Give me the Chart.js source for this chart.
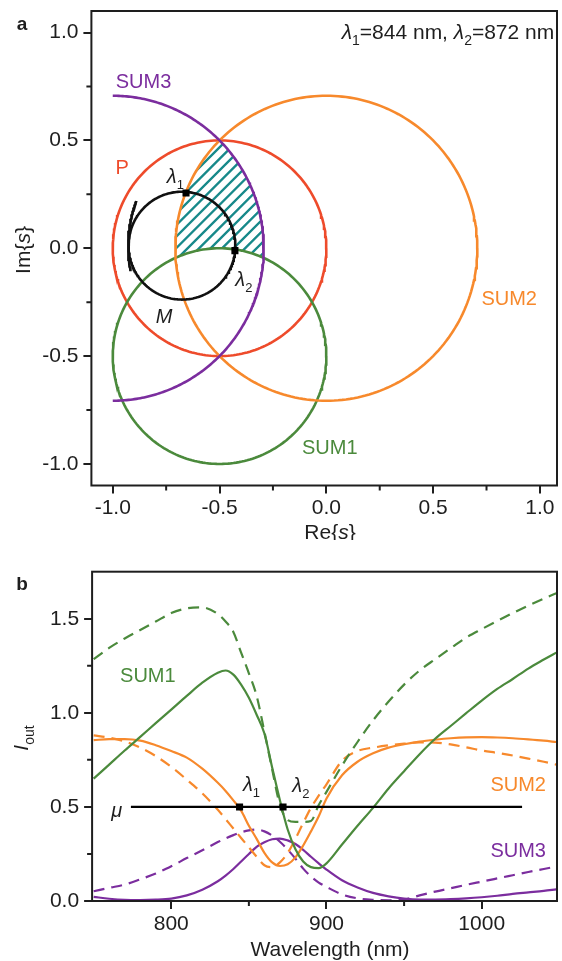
<!DOCTYPE html>
<html lang="en">
<head>
<meta charset="UTF-8">
<title>Complex plane and SUM outputs</title>
<script src="https://cdn.jsdelivr.net/npm/chart.js"></script>
<style>
    body { margin: 0; background: #fff; width: 562px; height: 961px; overflow: hidden; }
    canvas { position: absolute; left: 0; }
    #planeChart { top: 0; }
    #spectrumChart { top: 540px; }
</style>
</head>
<body>
<canvas id="planeChart" width="562" height="540"></canvas>
<canvas id="spectrumChart" width="562" height="421"></canvas>
<script>
// ---------- panel a: circles in the complex plane ----------
const circleNames  = ['P', 'SUM1', 'SUM2', 'SUM3', 'M', 'M tail'];
const circleRe     = [-0.5, -0.5, 0.0, -1.0, -0.676, -0.353];
const circleIm     = [0.0, -0.5, 0.0, 0.0, 0.012, 0.013];
const circleRadius = [0.5, 0.5, 0.707, 0.707, 0.25, 0.575];
const arcFromDeg   = [0, 0, 0, 90, 0, 159];
const arcToDeg     = [360, 360, 360, -90, 360, 192];
const lambdaRe = [-0.657, -0.428];
const lambdaIm = [0.256, -0.011];
const planeTicks = [-1, -0.5, 0, 0.5, 1];
const planeMinorTicks = [-0.75, -0.25, 0.25, 0.75];

// ---------- panel b: output intensity vs wavelength ----------
const wavelength = [750, 760, 770, 780, 790, 800, 810, 820, 830, 835, 840, 845, 850, 855, 860, 865, 870, 875, 880, 885,
    890, 895, 900, 910, 920, 930, 940, 950, 960, 970, 980, 990, 1000, 1010, 1020, 1030, 1040, 1048];
const sum1Solid  = [0.65, 0.725, 0.80, 0.872, 0.945, 1.017, 1.09, 1.16, 1.213, 1.225, 1.203, 1.15, 1.08, 0.99, 0.89, 0.71, 0.535, 0.38, 0.275, 0.21,
    0.18, 0.175, 0.20, 0.30, 0.40, 0.495, 0.598, 0.69, 0.78, 0.862, 0.93, 0.998, 1.065, 1.127, 1.18, 1.235, 1.283, 1.32];
const sum1Dashed = [1.285, 1.345, 1.395, 1.44, 1.485, 1.53, 1.555, 1.56, 1.525, 1.485, 1.43, 1.32, 1.21, 1.09, 0.90, 0.70, 0.51, 0.43, 0.42, 0.42,
    0.425, 0.51, 0.58, 0.72, 0.845, 0.96, 1.06, 1.15, 1.225, 1.285, 1.343, 1.40, 1.445, 1.488, 1.53, 1.57, 1.607, 1.635];
const sum2Solid  = [0.855, 0.86, 0.86, 0.852, 0.828, 0.797, 0.762, 0.703, 0.628, 0.585, 0.535, 0.48, 0.40, 0.33, 0.256, 0.205, 0.186, 0.195, 0.232, 0.295,
    0.37, 0.45, 0.545, 0.668, 0.74, 0.785, 0.815, 0.833, 0.847, 0.857, 0.865, 0.87, 0.871, 0.869, 0.865, 0.859, 0.852, 0.845];
const sum2Dashed = [0.88, 0.868, 0.848, 0.815, 0.77, 0.713, 0.645, 0.572, 0.485, 0.435, 0.385, 0.335, 0.285, 0.235, 0.19, 0.18, 0.205, 0.255, 0.33, 0.415,
    0.495, 0.56, 0.62, 0.745, 0.797, 0.815, 0.827, 0.836, 0.843, 0.842, 0.832, 0.817, 0.80, 0.787, 0.773, 0.757, 0.74, 0.725];
const sum3Solid  = [0.022, 0.012, 0.006, 0.005, 0.007, 0.013, 0.03, 0.06, 0.105, 0.135, 0.17, 0.21, 0.25, 0.288, 0.312, 0.328, 0.332, 0.322, 0.303, 0.272,
    0.235, 0.20, 0.167, 0.11, 0.072, 0.043, 0.025, 0.013, 0.008, 0.008, 0.01, 0.014, 0.02, 0.028, 0.038, 0.046, 0.054, 0.062];
const sum3Dashed = [0.052, 0.07, 0.087, 0.115, 0.146, 0.185, 0.228, 0.27, 0.313, 0.333, 0.35, 0.365, 0.375, 0.38, 0.37, 0.348, 0.315, 0.273, 0.225, 0.172,
    0.13, 0.098, 0.075, 0.035, 0.014, 0.006, 0.004, 0.008, 0.03, 0.05, 0.068, 0.086, 0.103, 0.12, 0.137, 0.154, 0.17, 0.183];
const muLevel = 0.5;
const muRange = [774, 1026];
const lambdaNm = [844, 872];
const wlTicks = [800, 900, 1000];
const wlMinorTicks = [850, 950];
const intensityTicks = [0, 0.5, 1.0, 1.5];
const intensityMinorTicks = [0.25, 0.75, 1.25];

const RED = '#ee4b2b', GREEN = '#4b8a3c', ORANGE = '#f7892c', PURPLE = '#7b2d9e', TEAL = '#17898a', INK = '#1e1e1e';
const FONT = '"Liberation Sans", Arial, sans-serif';
const circleColors = [RED, GREEN, ORANGE, PURPLE, '#111', '#111'];

function arcPoints(i) {
    const pts = [];
    const n = 240;
    for (let k = 0; k <= n; k++) {
        const a = (arcFromDeg[i] + (arcToDeg[i] - arcFromDeg[i]) * k / n) * Math.PI / 180;
        pts.push({ x: circleRe[i] + circleRadius[i] * Math.cos(a), y: circleIm[i] + circleRadius[i] * Math.sin(a) });
    }
    return pts;
}
const zip = (xs, ys) => xs.map((x, i) => ({ x, y: ys[i] }));

// text made of pieces: [text, style] with style '' | 'i' | 'sub'
function drawRich(ctx, parts, x, y, color, size, align, bold) {
    const sub = Math.round(size * 0.66);
    const fontOf = p => (bold ? 'bold ' : '') + (p[1] === 'i' ? 'italic ' : '') + (p[1] === 'sub' ? sub : size) + 'px ' + FONT;
    const widths = parts.map(p => { ctx.font = fontOf(p); return ctx.measureText(p[0]).width; });
    const total = widths.reduce((a, b) => a + b, 0);
    let cx = align === 'right' ? x - total : align === 'left' ? x : x - total / 2;
    ctx.fillStyle = color;
    ctx.textAlign = 'left';
    ctx.textBaseline = 'alphabetic';
    parts.forEach((p, i) => {
        ctx.font = fontOf(p);
        ctx.fillText(p[0], cx, y + size * 0.36 + (p[1] === 'sub' ? size * 0.3 : 0));
        cx += widths[i];
    });
}

const framePlugin = {
    id: 'frame',
    afterDraw(chart) {
        const { ctx, chartArea: a } = chart;
        const minor = chart.options.plugins.frame;
        ctx.save();
        ctx.strokeStyle = INK;
        ctx.lineWidth = 2;
        ctx.beginPath();
        minor.x.forEach(v => {
            const px = chart.scales.x.getPixelForValue(v);
            ctx.moveTo(px, a.bottom); ctx.lineTo(px, a.bottom + 5);
        });
        minor.y.forEach(v => {
            const py = chart.scales.y.getPixelForValue(v);
            ctx.moveTo(a.left, py); ctx.lineTo(a.left - 5, py);
        });
        ctx.stroke();
        ctx.strokeRect(a.left, a.top, a.right - a.left, a.bottom - a.top);
        ctx.restore();
    }
};

const labelPlugin = {
    id: 'labels',
    afterDatasetsDraw(chart) {
        const { ctx, scales: { x, y } } = chart;
        const cfg = chart.options.plugins.labels;
        ctx.save();
        cfg.items.forEach(l => {
            drawRich(ctx, l.parts, x.getPixelForValue(l.x), y.getPixelForValue(l.y), l.color, l.size || 20, l.align || 'center');
        });
        cfg.fixed.forEach(l => {
            ctx.save();
            ctx.translate(l.px, l.py);
            if (l.rotate) ctx.rotate(-Math.PI / 2);
            drawRich(ctx, l.parts, 0, 0, INK, l.size || 21, 'center', l.bold);
            ctx.restore();
        });
        ctx.restore();
    }
};

const hatchPlugin = {
    id: 'hatch',
    beforeDatasetsDraw(chart) {
        if (!chart.options.plugins.hatch) return;
        const { ctx, chartArea: a, scales: { x, y } } = chart;
        const ell = name => {
            const i = circleNames.indexOf(name);
            const cx = x.getPixelForValue(circleRe[i]), cy = y.getPixelForValue(circleIm[i]);
            return [cx, cy,
                Math.abs(x.getPixelForValue(circleRe[i] + circleRadius[i]) - cx),
                Math.abs(y.getPixelForValue(circleIm[i] + circleRadius[i]) - cy)];
        };
        ctx.save();
        ['SUM2', 'SUM3'].forEach(n => {
            const e = ell(n);
            ctx.beginPath();
            ctx.ellipse(e[0], e[1], e[2], e[3], 0, 0, 2 * Math.PI);
            ctx.clip();
        });
        const o = ell('SUM1');
        ctx.beginPath();
        ctx.rect(a.left, a.top, a.right - a.left, a.bottom - a.top);
        ctx.moveTo(o[0] + o[2], o[1]);
        ctx.ellipse(o[0], o[1], o[2], o[3], 0, 0, 2 * Math.PI);
        ctx.clip('evenodd');
        ctx.strokeStyle = TEAL;
        ctx.lineWidth = 2.4;
        ctx.beginPath();
        for (let c = a.left + a.top; c < a.right + a.bottom; c += 11.5) {
            ctx.moveTo(c - a.top, a.top);
            ctx.lineTo(c - a.bottom, a.bottom);
        }
        ctx.stroke();
        ctx.restore();
    }
};

function axis(min, max, ticks, fmt, fit, pad) {
    return {
        type: 'linear', min, max,
        afterBuildTicks: s => { s.ticks = ticks.map(v => ({ value: v })); },
        afterFit: s => {
            fit(s);
            s.paddingTop = 0; s.paddingBottom = 0; s.paddingLeft = 0; s.paddingRight = 0;
        },
        border: { display: false },
        grid: { drawOnChartArea: false, drawTicks: true, tickLength: 8, color: INK, lineWidth: 2 },
        ticks: { color: INK, font: { family: FONT, size: 21 }, padding: pad, callback: fmt }
    };
}

// ----- chart a -----
const planeSets = [{
    data: zip(lambdaRe, lambdaIm), showLine: false,
    pointStyle: 'rect', pointRadius: 5, backgroundColor: '#000', borderColor: '#000', borderWidth: 0
}];
for (let i = circleNames.length - 1; i >= 0; i--) {
    planeSets.push({
        label: circleNames[i], data: arcPoints(i), showLine: true, pointRadius: 0,
        borderColor: circleColors[i], borderWidth: 2.6, tension: 0
    });
}

new Chart(document.getElementById('planeChart'), {
    type: 'scatter',
    data: { datasets: planeSets },
    plugins: [hatchPlugin, labelPlugin, framePlugin],
    options: {
        responsive: false, animation: false,
        layout: { padding: { top: 11, right: 1, left: 0, bottom: 0 } },
        scales: {
            x: axis(-1.1, 1.08, planeTicks, v => Number(v).toFixed(1), s => { s.height = 54.5; }, 2),
            y: axis(-1.1, 1.1, planeTicks, v => Number(v).toFixed(1), s => { s.width = 91.4; }, 5)
        },
        plugins: {
            legend: { display: false }, tooltip: { enabled: false },
            hatch: true,
            frame: { x: planeMinorTicks, y: planeMinorTicks },
            labels: {
                items: [
                    { x: -0.856, y: 0.775, color: PURPLE, parts: [['SUM3', '']] },
                    { x: -0.956, y: 0.379, color: RED, parts: [['P', '']] },
                    { x: -0.707, y: 0.335, color: INK, parts: [['λ', 'i'], ['1', 'sub']] },
                    { x: -0.386, y: -0.141, color: INK, parts: [['λ', 'i'], ['2', 'sub']] },
                    { x: -0.760, y: -0.311, color: INK, parts: [['M', 'i']] },
                    { x: 0.856, y: -0.232, color: ORANGE, parts: [['SUM2', '']] },
                    { x: 0.016, y: -0.922, color: GREEN, parts: [['SUM1', '']] },
                    { x: 1.067, y: 1.006, color: INK, size: 21, align: 'right',
                      parts: [['λ', 'i'], ['1', 'sub'], ['=844 nm, ', ''], ['λ', 'i'], ['2', 'sub'], ['=872 nm', '']] }
                ],
                fixed: [
                    { px: 22, py: 23, parts: [['a', '']], size: 19, bold: true },
                    { px: 22, py: 250, rotate: true, parts: [['Im{', ''], ['s', 'i'], ['}', '']] },
                    { px: 330, py: 531, parts: [['Re{', ''], ['s', 'i'], ['}', '']] }
                ]
            }
        }
    }
});

// ----- chart b -----
const lineSet = (data, color, dashed, order) => ({
    data: zip(wavelength, data), showLine: true, pointRadius: 0, borderColor: color, borderWidth: 2.2,
    borderDash: dashed ? [11, 7] : [], cubicInterpolationMode: 'monotone', order
});

new Chart(document.getElementById('spectrumChart'), {
    type: 'scatter',
    data: {
        datasets: [
            { data: lambdaNm.map(v => ({ x: v, y: muLevel })), showLine: false, pointStyle: 'rect', pointRadius: 5,
              backgroundColor: '#000', borderWidth: 0, order: 0 },
            { data: muRange.map(v => ({ x: v, y: muLevel })), showLine: true, pointRadius: 0, borderColor: '#000',
              borderWidth: 2.4, order: 1 },
            lineSet(sum1Solid, GREEN, false, 2),
            lineSet(sum1Dashed, GREEN, true, 3),
            lineSet(sum2Solid, ORANGE, false, 4),
            lineSet(sum2Dashed, ORANGE, true, 5),
            lineSet(sum3Solid, PURPLE, false, 6),
            lineSet(sum3Dashed, PURPLE, true, 7)
        ]
    },
    plugins: [labelPlugin, framePlugin],
    options: {
        responsive: false, animation: false,
        layout: { padding: { top: 31.7, right: 0, left: 0, bottom: 0 } },
        scales: {
            x: axis(749, 1048.5, wlTicks, v => String(v), s => { s.height = 60; }, 3),
            y: axis(0, 1.75, intensityTicks, v => Number(v).toFixed(1), s => { s.width = 92.1; }, 5)
        },
        plugins: {
            legend: { display: false }, tooltip: { enabled: false },
            frame: { x: wlMinorTicks, y: intensityMinorTicks },
            labels: {
                items: [
                    { x: 784.9, y: 1.20, color: GREEN, parts: [['SUM1', '']] },
                    { x: 851.7, y: 0.625, color: INK, parts: [['λ', 'i'], ['1', 'sub']] },
                    { x: 883.5, y: 0.616, color: INK, parts: [['λ', 'i'], ['2', 'sub']] },
                    { x: 764.8, y: 0.484, color: INK, parts: [['μ', 'i']] },
                    { x: 1023.5, y: 0.625, color: ORANGE, parts: [['SUM2', '']] },
                    { x: 1023.5, y: 0.271, color: PURPLE, parts: [['SUM3', '']] }
                ],
                fixed: [
                    { px: 22, py: 43, parts: [['b', '']], size: 19, bold: true },
                    { px: 20.5, py: 198, rotate: true, parts: [['I', 'i'], ['out', 'sub']] },
                    { px: 330, py: 408, parts: [['Wavelength (nm)', '']] }
                ]
            }
        }
    }
});
</script>
</body>
</html>
